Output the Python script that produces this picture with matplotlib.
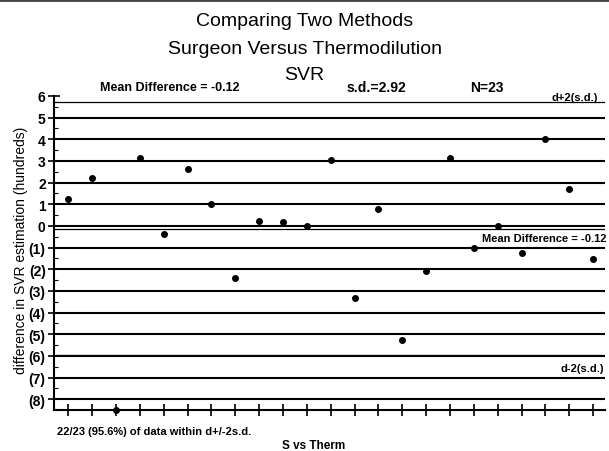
import matplotlib
matplotlib.use("Agg")
import matplotlib.pyplot as plt
from matplotlib.ticker import FixedLocator, MultipleLocator

plt.rcParams['font.family'] = ['Liberation Sans', 'DejaVu Sans']

# Data
case_no = list(range(1, 24))
differences = [1.25, 2.2, -8.5, 3.15, -0.35, 2.65, 1.0, -2.4, 0.25, 0.2, 0.0,
               3.05, -3.35, 0.8, -5.25, -2.1, 3.15, -1.0, 0.0, -1.25, 4.0, 1.7, -1.55]
mean_diff = -0.12
sd = 2.92
n = 23
within_text = '22/23 (95.6%) of data within d+/-2s.d.'
y_ticks = [6, 5, 4, 3, 2, 1, 0, -1, -2, -3, -4, -5, -6, -7, -8]
y_tick_labels = ['6', '5', '4', '3', '2', '1', '0', '(1)', '(2)', '(3)', '(4)',
                 '(5)', '(6)', '(7)', '(8)']
grid_levels = [5, 4, 3, 2, 1, 0, -1, -2, -3, -4, -5, -6, -7, -8]

fig = plt.figure(figsize=(6.09, 4.52), dpi=100)
ax = fig.add_axes([54/609, 1-411/452, (605-54)/609, (411-97)/452])

upper = mean_diff + 2*sd
lower = mean_diff - 2*sd

for g in grid_levels:
    ax.axhline(g, color='black', lw=1.5, zorder=1)
ax.axhline(upper, color='black', lw=0.9, zorder=1)
ax.axhline(mean_diff, color='black', lw=0.9, zorder=1)
ax.axhline(lower, color='black', lw=0.9, zorder=1)

ax.plot(case_no, differences, 'o', color='black', ms=4, clip_on=False, zorder=3)

ax.set_xlim(0.4, 23.5)
ax.set_ylim(-8.5, 6)
ax.yaxis.set_major_locator(FixedLocator(y_ticks))
ax.set_yticklabels(y_tick_labels, fontsize=10, fontweight='bold')
ax.yaxis.set_minor_locator(MultipleLocator(0.5))
ax.xaxis.set_major_locator(FixedLocator(case_no))
ax.set_xticklabels([])
ax.tick_params(axis='y', which='major', direction='inout', length=8, width=1.2, pad=2)
ax.tick_params(axis='y', which='minor', direction='in', length=3, width=0.8)
ax.tick_params(axis='x', which='major', direction='inout', length=8, width=1.2)
for s in ['top', 'right']:
    ax.spines[s].set_visible(False)
ax.spines['left'].set_linewidth(1.5)
ax.spines['bottom'].set_linewidth(1.5)

fig.text(21/609, 1-250/452, 'difference in SVR estimation (hundreds)', rotation=90,
         ha='center', va='center', fontsize=10)

# Titles
fig.text(0.5, 1-22/452, 'Comparing Two Methods', ha='center', va='center', fontsize=14)
fig.text(0.5, 1-50/452, 'Surgeon Versus Thermodilution', ha='center', va='center', fontsize=14)
fig.text(0.5, 1-76/452, 'SVR', ha='center', va='center', fontsize=14)

fig.text(100/609, 1-88/452, f'Mean Difference = {mean_diff:.2f}', ha='left', va='center',
         fontsize=9, fontweight='bold')
fig.text(347/609, 1-88/452, f's.d.={sd:.2f}', ha='left', va='center',
         fontsize=10, fontweight='bold')
fig.text(470/609, 1-88/452, f'N={n}', ha='left', va='center',
         fontsize=10, fontweight='bold')

ax.text(598/609, 1-98/452, 'd+2(s.d.)', transform=fig.transFigure, ha='right', va='center',
        fontsize=8, fontweight='bold')
ax.text(607/609, 1-239/452, f'Mean Difference = {mean_diff:.2f}', transform=fig.transFigure,
        ha='right', va='center', fontsize=8, fontweight='bold')
ax.text(604/609, 1-369/452, 'd-2(s.d.)', transform=fig.transFigure, ha='right', va='center',
        fontsize=8, fontweight='bold')

fig.text(57/609, 1-432/452, within_text,
         ha='left', va='center', fontsize=8, fontweight='bold')
fig.text(314/609, 1-446/452, 'S vs Therm', ha='center', va='center', fontsize=8.5, fontweight='bold')

fig.add_artist(plt.Line2D([0, 1], [1-1/452, 1-1/452], color='#444444', lw=2))

fig.savefig('out.png', dpi=100)
